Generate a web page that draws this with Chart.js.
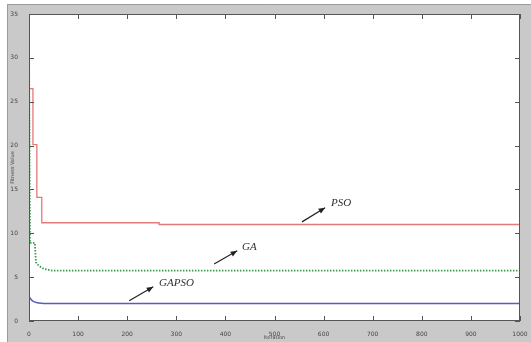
<!DOCTYPE html>
<html>
<head>
<meta charset="utf-8">
<script src="https://cdn.jsdelivr.net/npm/chart.js@4/dist/chart.umd.min.js"></script>
<style>
  html, body { margin: 0; padding: 0; background: #fff; }
  #wrap { width: 531px; height: 342px; position: relative; }
</style>
</head>
<body>
<div id="wrap"><canvas id="fitness"></canvas></div>
<script>
// convergence curves, fitness value per iteration
const psoIter = [0, 8, 16, 26, 265, 1000];
const psoFit = [26.5, 20.1, 14.1, 11.2, 11.0, 11.0];

const gaIter = [0, 1, 2, 12, 14, 20, 30, 47, 1000];
const gaFit = [32.5, 20, 8.9, 8.9, 6.7, 6.3, 5.95, 5.75, 5.75];

const gapsoIter = [0, 3, 6, 10, 15, 20, 30, 40, 1000];
const gapsoFit = [2.8, 2.55, 2.35, 2.2, 2.1, 2.05, 2.0, 2.0, 2.0];

const xTicks = [0, 100, 200, 300, 400, 500, 600, 700, 800, 900, 1000];
const yTicks = [0, 5, 10, 15, 20, 25, 30, 35];

// text labels with arrows, in data units
const labels = [
  { text: "PSO", x: 615, y: 13.45, from: [556, 11.3], to: [603, 12.9] },
  { text: "GA", x: 434, y: 8.45, from: [377, 6.5], to: [424, 8.0] },
  { text: "GAPSO", x: 265, y: 4.35, from: [204, 2.3], to: [253, 3.9] }
];

function pts(xs, ys) {
  return xs.map((x, i) => ({ x: x, y: ys[i] }));
}

// grey figure background and white axes box
const figureBg = {
  id: "figureBg",
  beforeDraw(chart) {
    const ctx = chart.ctx;
    const a = chart.chartArea;
    ctx.save();
    ctx.fillStyle = "#fff";
    ctx.fillRect(0, 0, chart.width, chart.height);
    ctx.fillStyle = "#c9c9c9";
    ctx.fillRect(7, 4, chart.width - 7, chart.height - 4);
    ctx.strokeStyle = "#9a9a9a";
    ctx.lineWidth = 1;
    ctx.beginPath();
    ctx.moveTo(7.5, chart.height);
    ctx.lineTo(7.5, 4.5);
    ctx.lineTo(chart.width, 4.5);
    ctx.stroke();
    ctx.fillStyle = "#fff";
    ctx.fillRect(a.left, a.top, a.right - a.left, a.bottom - a.top);
    ctx.restore();
  }
};

// box outline, inward ticks on all four sides, arrows and labels
const axesBox = {
  id: "axesBox",
  afterDraw(chart) {
    const ctx = chart.ctx;
    const a = chart.chartArea;
    const sx = chart.scales.x, sy = chart.scales.y;
    ctx.save();
    ctx.strokeStyle = "#555";
    ctx.lineWidth = 1;
    ctx.strokeRect(a.left + 0.5, a.top + 0.5, a.right - a.left - 1, a.bottom - a.top - 1);
    ctx.beginPath();
    xTicks.forEach(v => {
      const px = Math.round(sx.getPixelForValue(v)) + 0.5;
      ctx.moveTo(px, a.bottom); ctx.lineTo(px, a.bottom - 5);
      ctx.moveTo(px, a.top); ctx.lineTo(px, a.top + 5);
    });
    yTicks.forEach(v => {
      const py = Math.round(sy.getPixelForValue(v)) + 0.5;
      ctx.moveTo(a.left, py); ctx.lineTo(a.left + 5, py);
      ctx.moveTo(a.right, py); ctx.lineTo(a.right - 5, py);
    });
    ctx.stroke();

    labels.forEach(l => {
      const x0 = sx.getPixelForValue(l.from[0]), y0 = sy.getPixelForValue(l.from[1]);
      const x1 = sx.getPixelForValue(l.to[0]), y1 = sy.getPixelForValue(l.to[1]);
      ctx.strokeStyle = "#222";
      ctx.fillStyle = "#222";
      ctx.lineWidth = 1.2;
      ctx.beginPath();
      ctx.moveTo(x0, y0); ctx.lineTo(x1, y1);
      ctx.stroke();
      const ang = Math.atan2(y1 - y0, x1 - x0);
      ctx.beginPath();
      ctx.moveTo(x1, y1);
      ctx.lineTo(x1 - 7 * Math.cos(ang - 0.4), y1 - 7 * Math.sin(ang - 0.4));
      ctx.lineTo(x1 - 7 * Math.cos(ang + 0.4), y1 - 7 * Math.sin(ang + 0.4));
      ctx.closePath();
      ctx.fill();
      ctx.font = "italic 11px 'Liberation Serif'";
      ctx.fillStyle = "#333";
      ctx.textBaseline = "middle";
      ctx.textAlign = "left";
      ctx.fillText(l.text, sx.getPixelForValue(l.x), sy.getPixelForValue(l.y));
    });
    ctx.restore();
  }
};

const ctx = document.getElementById("fitness").getContext("2d");
const chart = new Chart(ctx, {
  type: "line",
  data: {
    datasets: [
      {
        label: "PSO",
        data: pts(psoIter, psoFit),
        borderColor: "#e27a7a",
        borderWidth: 1.3,
        stepped: "before",
        pointRadius: 0
      },
      {
        label: "GA",
        data: pts(gaIter, gaFit),
        borderColor: "#3a9a4c",
        borderWidth: 1.8,
        borderDash: [1.5, 1.5],
        pointRadius: 0
      },
      {
        label: "GAPSO",
        data: pts(gapsoIter, gapsoFit),
        borderColor: "#5a5ac4",
        borderWidth: 1.5,
        pointRadius: 0,
        tension: 0.3
      }
    ]
  },
  options: {
    responsive: true,
    maintainAspectRatio: false,
    animation: false,
    layout: { padding: { left: 7, top: 14, right: 11, bottom: 0 } },
    plugins: {
      legend: { display: false },
      tooltip: { enabled: false }
    },
    scales: {
      x: {
        type: "linear",
        min: 0,
        max: 1000,
        afterBuildTicks: s => { s.ticks = xTicks.map(v => ({ value: v })); },
        afterFit: s => { s.height = 21; },
        grid: { display: false },
        border: { display: false },
        ticks: {
          color: "#444",
          font: { size: 6, family: "DejaVu Sans" },
          padding: 2,
          maxRotation: 0,
          callback: v => String(v)
        },
        title: {
          display: true,
          text: "Iteration",
          color: "#444",
          font: { size: 5, family: "DejaVu Sans" },
          padding: { top: 0, bottom: 1 }
        }
      },
      y: {
        min: 0,
        max: 35,
        afterBuildTicks: s => { s.ticks = yTicks.map(v => ({ value: v })); },
        afterFit: s => { s.width = 22; },
        grid: { display: false },
        border: { display: false },
        ticks: {
          color: "#444",
          font: { size: 6, family: "DejaVu Sans" },
          padding: 3
        },
        title: {
          display: true,
          text: "Fitness Value",
          color: "#444",
          font: { size: 5, family: "DejaVu Sans" },
          padding: { top: 3, bottom: 0 }
        }
      }
    }
  },
  plugins: [figureBg, axesBox]
});
</script>
</body>
</html>
